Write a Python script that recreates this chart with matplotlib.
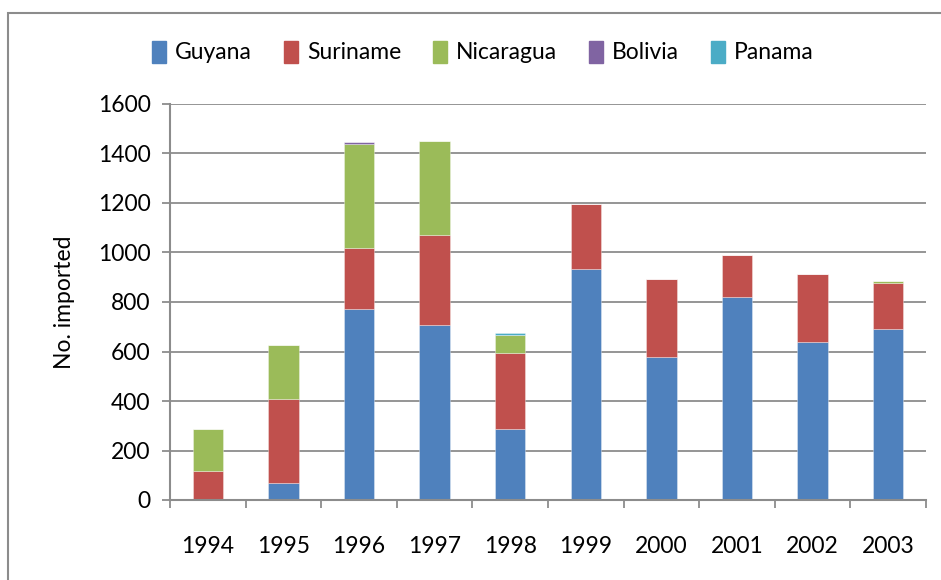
import matplotlib
matplotlib.use("Agg")
import matplotlib.pyplot as plt
import matplotlib.patches as mpatches
import numpy as np

years = ["1994", "1995", "1996", "1997", "1998", "1999", "2000", "2001", "2002", "2003"]
guyana = [0, 67, 771, 707, 286, 933, 577, 820, 640, 690]
suriname = [116, 340, 249, 362, 307, 262, 316, 168, 275, 185]
nicaragua = [170, 219, 417, 382, 72, 0, 0, 0, 0, 11]
bolivia = [0, 0, 8, 0, 0, 0, 0, 0, 0, 0]
panama = [0, 0, 0, 0, 9, 0, 0, 0, 0, 0]

series = [("Guyana", guyana, "#4F81BD"),
          ("Suriname", suriname, "#C0504D"),
          ("Nicaragua", nicaragua, "#9BBB59"),
          ("Bolivia", bolivia, "#8064A2"),
          ("Panama", panama, "#4BACC6")]

plt.rcParams['font.family'] = ['Lato', 'DejaVu Sans']
FS = 16.5
W, H = 941, 580
fig = plt.figure(figsize=(W / 100, H / 100), dpi=100)
ax = fig.add_axes([170 / W, (H - 500) / H, (926 - 170) / W, (500 - 104) / H])

x = np.arange(len(years))
bottom = np.zeros(len(years))
handles = []
for name, vals, col in series:
    v = np.array(vals, dtype=float)
    ax.bar(x, v, width=0.4, bottom=bottom, color=col, edgecolor=(1, 1, 1, 0.6),
           linewidth=0.4, label=name)
    bottom += v
    handles.append(mpatches.Patch(color=col, label=name))

ax.set_xlim(-0.5, len(years) - 0.5)
ax.set_ylim(0, 1600)
ax.set_yticks(np.arange(0, 1601, 200))
ax.yaxis.grid(True, color="#8c8c8c", linewidth=1.3)
ax.set_axisbelow(True)
for s in ["top", "right"]:
    ax.spines[s].set_visible(False)
for s in ["left", "bottom"]:
    ax.spines[s].set_color("#8c8c8c")
    ax.spines[s].set_linewidth(1.5)

ax.set_xticks(x)
ax.set_xticklabels(years)
ax.tick_params(axis="x", which="major", length=0, pad=26, labelsize=FS)
ax.set_xticks(np.arange(-0.5, len(years), 1), minor=True)
ax.tick_params(axis="x", which="minor", length=6, width=1.3, color="#8c8c8c", direction="out")
ax.tick_params(axis="y", length=6, width=1.3, color="#8c8c8c", pad=8, labelsize=FS)
ax.set_ylabel("No. imported", fontsize=FS, labelpad=16)

fig.legend(handles=handles, loc="center", bbox_to_anchor=(483 / W, 1 - 52 / H),
           ncol=5, frameon=False, fontsize=FS, handlelength=0.6, handleheight=1.1,
           handletextpad=0.4, columnspacing=1.4)

border = mpatches.Rectangle((7.5 / W, -0.1), 2, (H - 12.5) / H + 0.1,
                            transform=fig.transFigure, fill=False,
                            edgecolor="#8c8c8c", linewidth=1.5)
fig.patches.append(border)

fig.savefig("out.png", dpi=100)
